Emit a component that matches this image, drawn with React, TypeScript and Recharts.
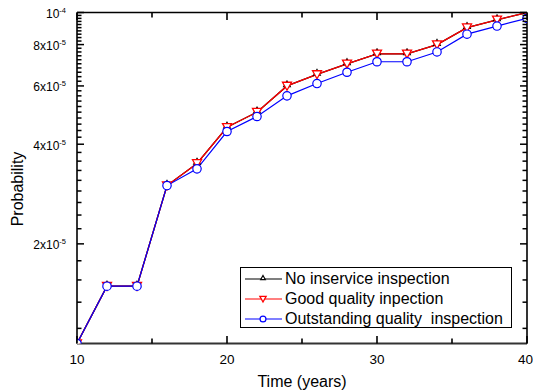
import React from "react";
import { LineChart, Line, XAxis, YAxis, Legend, Label } from "recharts";

const YEARS = [10, 12, 14, 16, 18, 20, 22, 24, 26, 28, 30, 32, 34, 36, 38, 40];
const NO_INSPECTION = [
  1.0e-5, 1.49e-5, 1.49e-5, 3.0e-5, 3.5e-5, 4.5e-5, 5.0e-5, 6.0e-5,
  6.5e-5, 7.0e-5, 7.5e-5, 7.5e-5, 8.0e-5, 9.0e-5, 9.5e-5, 1.0e-4,
];
const GOOD_QUALITY = [
  1.0e-5, 1.49e-5, 1.49e-5, 3.0e-5, 3.5e-5, 4.5e-5, 5.0e-5, 6.0e-5,
  6.5e-5, 7.0e-5, 7.5e-5, 7.5e-5, 8.0e-5, 9.0e-5, 9.5e-5, 1.0e-4,
];
const OUTSTANDING_QUALITY = [
  1.0e-5, 1.49e-5, 1.49e-5, 3.0e-5, 3.37e-5, 4.37e-5, 4.85e-5, 5.6e-5,
  6.1e-5, 6.6e-5, 7.1e-5, 7.1e-5, 7.6e-5, 8.6e-5, 9.1e-5, 9.6e-5,
];

const SERIES_NAMES = [
  "No inservice inspection",
  "Good quality inpection",
  "Outstanding quality  inspection",
];

const X_TICKS = [10, 15, 20, 25, 30, 35, 40];
const X_LABELS = [10, 20, 30, 40];

const Y_MAJOR = [2e-5, 4e-5, 6e-5, 8e-5, 1e-4];
const Y_MANTISSA = ["2x10", "4x10", "6x10", "8x10", "10"];
const Y_EXPONENT = ["-5", "-5", "-5", "-5", "-4"];

// minor ticks between the majors, in units of 1e-5
const Y_MINOR = [
  1.111, 1.333, 1.556, 1.778,
  2.222, 2.444, 2.667, 2.889, 3.111, 3.333, 3.556, 3.778,
  4.2, 4.4, 4.6, 4.8, 5.0, 5.2, 5.4, 5.6, 5.8,
  6.2, 6.4, 6.6, 6.8, 7.0, 7.2, 7.4, 7.6, 7.8,
  8.2, 8.4, 8.6, 8.8, 9.0, 9.2, 9.4, 9.6, 9.8,
].map((v) => v * 1e-5);

const Y_TICKS = [...Y_MINOR, ...Y_MAJOR].sort((a, b) => a - b);

const data = YEARS.map((year, i) => ({
  year,
  none: NO_INSPECTION[i],
  good: GOOD_QUALITY[i],
  outstanding: OUTSTANDING_QUALITY[i],
}));

const FONT = "'Liberation Sans', Arial, sans-serif";

const majorIndex = (v: number) => Y_MAJOR.findIndex((m) => Math.abs(m - v) < 1e-12);

const LeftTick = ({ x, y, payload }: any) => {
  const i = majorIndex(payload.value);
  const len = i >= 0 ? 7 : 4.5;
  return (
    <g>
      <line x1={x} x2={x + len} y1={y} y2={y} stroke="#000" strokeWidth={1.5} />
      {i >= 0 && (
        <text x={x - 11} y={y + 5.5} textAnchor="end" fontSize={12} fontFamily={FONT} fill="#000">
          {Y_MANTISSA[i]}
          <tspan dy={-5} fontSize={7.5}>{Y_EXPONENT[i]}</tspan>
        </text>
      )}
    </g>
  );
};

const RightTick = ({ x, y, payload }: any) => {
  const len = majorIndex(payload.value) >= 0 ? 7 : 4.5;
  return (
    <g>
      <line x1={x} x2={x - len} y1={y} y2={y} stroke="#000" strokeWidth={1.5} />
    </g>
  );
};

const BottomTick = ({ x, y, payload }: any) => {
  const labelled = X_LABELS.includes(payload.value);
  const len = labelled ? 7.5 : 5;
  const last = payload.value === 40;
  return (
    <g>
      <line x1={x} x2={x} y1={y} y2={y - len} stroke="#000" strokeWidth={1.6} />
      {labelled && (
        <text
          x={last ? 533 : x}
          y={y + 20}
          textAnchor={last ? "end" : "middle"}
          fontSize={13.5}
          fontFamily={FONT}
          fill="#000"
        >
          {payload.value}
        </text>
      )}
    </g>
  );
};

const TopTick = ({ x, y, payload }: any) => {
  const len = X_LABELS.includes(payload.value) ? 7.5 : 5;
  return (
    <g>
      <line x1={x} x2={x} y1={y} y2={y + len} stroke="#000" strokeWidth={1.6} />
    </g>
  );
};

const UpTriangle = ({ cx, cy, size = 1 }: any) => (
  <path
    d={`M${cx},${cy - 5 * size} L${cx + 3.3 * size},${cy + 0.8 * size} L${cx - 3.3 * size},${cy + 0.8 * size} Z`}
    fill="#fff"
    stroke="#000"
    strokeWidth={1.2}
  />
);

const DownTriangle = ({ cx, cy, size = 1 }: any) => (
  <path
    d={`M${cx - 4.5 * size},${cy - 3.7 * size} L${cx + 4.5 * size},${cy - 3.7 * size} L${cx},${cy + 4.3 * size} Z`}
    fill="#fff"
    stroke="#ff0000"
    strokeWidth={1.3}
  />
);

const Ring = ({ cx, cy, size = 1 }: any) => (
  <circle cx={cx} cy={cy} r={4.2 * size} fill="#fff" stroke="#0000ff" strokeWidth={1.2} />
);

const LEGEND_ROWS = [
  { color: "#000", Marker: UpTriangle },
  { color: "#ff0000", Marker: DownTriangle },
  { color: "#0000ff", Marker: Ring },
];

const renderLegend = () => (
  <div
    style={{
      border: "1px solid #000",
      background: "#fff",
      width: 272,
      height: 61,
      boxSizing: "border-box",
      paddingTop: 1,
      fontFamily: FONT,
      fontSize: 16,
      color: "#000",
    }}
  >
    {LEGEND_ROWS.map(({ color, Marker }, i) => (
      <div key={i} style={{ display: "flex", alignItems: "center", height: 20, lineHeight: "20px" }}>
        <svg width={44} height={20} style={{ flex: "none" }}>
          <line x1={4} x2={41} y1={10} y2={10} stroke={color} strokeWidth={1.2} />
          <Marker cx={22} cy={10} size={0.7} />
        </svg>
        <span style={{ whiteSpace: "pre" }}>{SERIES_NAMES[i]}</span>
      </div>
    ))}
  </div>
);

export default function App() {
  return (
    <div style={{ position: "absolute", left: 0, top: 0, width: 533, height: 392, background: "#fff" }}>
      <LineChart
        width={533}
        height={392}
        data={data}
        margin={{ top: 11.5, right: 5, bottom: 47.5, left: 76 }}
      >
        <XAxis
          dataKey="year"
          type="number"
          domain={[10, 40]}
          ticks={X_TICKS}
          interval={0}
          allowDataOverflow
          height={1}
          tickSize={0}
          tickMargin={0}
          tickLine={false}
          tick={<BottomTick />}
          axisLine={{ stroke: "#333", strokeWidth: 2 }}
        >
          <Label
            value="Time (years)"
            position="bottom"
            offset={31}
            style={{ fontSize: 16, fontFamily: FONT, fill: "#000" }}
          />
        </XAxis>
        <XAxis
          xAxisId="top"
          orientation="top"
          dataKey="year"
          type="number"
          domain={[10, 40]}
          ticks={X_TICKS}
          interval={0}
          allowDataOverflow
          height={1}
          tickSize={0}
          tickMargin={0}
          tickLine={false}
          tick={<TopTick />}
          axisLine={{ stroke: "#000", strokeWidth: 1.5 }}
        />
        <YAxis
          type="number"
          scale="log"
          domain={[1e-5, 1e-4]}
          ticks={Y_TICKS}
          interval={0}
          allowDataOverflow
          width={1}
          tickSize={0}
          tickMargin={0}
          tickLine={false}
          tick={<LeftTick />}
          axisLine={{ stroke: "#000", strokeWidth: 1.6 }}
        >
          <Label
            content={() => (
              <text
                x={23}
                y={189}
                transform="rotate(-90 23 189)"
                textAnchor="middle"
                fontSize={16}
                fontFamily={FONT}
                fill="#000"
              >
                Probability
              </text>
            )}
          />
        </YAxis>
        <YAxis
          yAxisId="right"
          orientation="right"
          type="number"
          scale="log"
          domain={[1e-5, 1e-4]}
          ticks={Y_TICKS}
          interval={0}
          allowDataOverflow
          width={1}
          tickSize={0}
          tickMargin={0}
          tickLine={false}
          tick={<RightTick />}
          axisLine={{ stroke: "#000", strokeWidth: 1.6 }}
        />
        <Legend
          layout="vertical"
          align="center"
          verticalAlign="middle"
          content={renderLegend}
          wrapperStyle={{ position: "absolute", left: 240, top: 267, width: 272, height: 61 }}
        />
        <Line
          dataKey="none"
          name={SERIES_NAMES[0]}
          type="linear"
          stroke="#000"
          strokeWidth={1.3}
          isAnimationActive={false}
          activeDot={false}
          dot={(p: any) => <UpTriangle key={`a-${p.index}`} cx={p.cx} cy={p.cy} />}
        />
        <Line
          dataKey="good"
          name={SERIES_NAMES[1]}
          type="linear"
          stroke="#ff0000"
          strokeWidth={1.3}
          isAnimationActive={false}
          activeDot={false}
          dot={(p: any) => <DownTriangle key={`b-${p.index}`} cx={p.cx} cy={p.cy} />}
        />
        <Line
          dataKey="outstanding"
          name={SERIES_NAMES[2]}
          type="linear"
          stroke="#0000ff"
          strokeWidth={1.2}
          isAnimationActive={false}
          activeDot={false}
          dot={(p: any) => <Ring key={`c-${p.index}`} cx={p.cx} cy={p.cy} />}
        />
      </LineChart>
    </div>
  );
}
